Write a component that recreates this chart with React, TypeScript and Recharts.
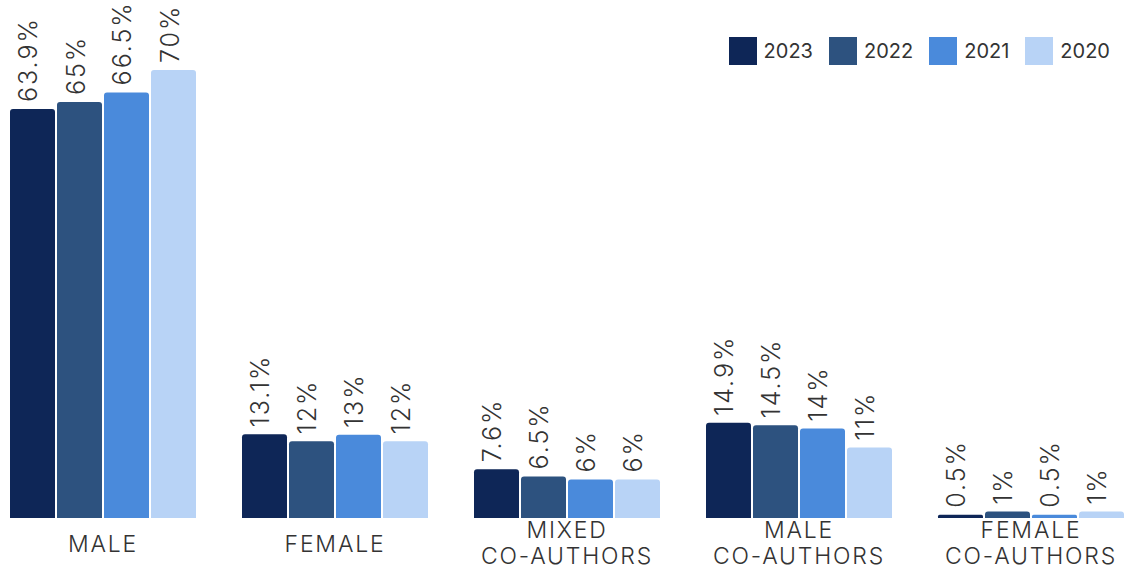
import React from 'react';
import { BarChart, Bar, XAxis, YAxis, LabelList, Legend } from 'recharts';

const categories = ['MALE', 'FEMALE', 'MIXED\nCO-AUTHORS', 'MALE\nCO-AUTHORS', 'FEMALE\nCO-AUTHORS'];
const v2023 = [63.9, 13.1, 7.6, 14.9, 0.5];
const v2022 = [65, 12, 6.5, 14.5, 1];
const v2021 = [66.5, 13, 6, 14, 0.5];
const v2020 = [70, 12, 6, 11, 1];
const seriesNames = ['2023', '2022', '2021', '2020'];
const seriesColors = ['#0e2657', '#2d527f', '#4a8adb', '#b8d3f6'];

const data = categories.map((c, i) => ({
  name: c,
  '2023': v2023[i],
  '2022': v2022[i],
  '2021': v2021[i],
  '2020': v2020[i],
}));

const FONT = 'Inter, "Open Sans", sans-serif';

const ValueLabel = (props: any) => {
  const { x, y, width, value } = props;
  const px = x + width / 2 + 5;
  const py = y - 7;
  return (
    <text
      x={px}
      y={py}
      transform={`rotate(-90, ${px}, ${py})`}
      textAnchor="start"
      fill="#333333"
      fontSize={25}
      fontWeight={300}
      letterSpacing={2}
      fontFamily={FONT}
    >
      {`${value}%`}
    </text>
  );
};

const CategoryTick = (props: any) => {
  const { x, y, payload } = props;
  const lines = String(payload.value).split('\n');
  const style = {
    fill: '#333333',
    fontSize: 23,
    fontWeight: 300,
    letterSpacing: 1.8,
    fontFamily: FONT,
  } as any;
  if (lines.length === 1) {
    return (
      <text x={x} y={y + 34} textAnchor="middle" style={style}>{lines[0]}</text>
    );
  }
  return (
    <g>
      {lines.map((l, i) => (
        <text key={i} x={x} y={y + 20 + i * 26} textAnchor="middle" style={style}>{l}</text>
      ))}
    </g>
  );
};

const LegendContent = () => (
  <div style={{ display: 'flex', alignItems: 'center', fontFamily: FONT }}>
    {seriesNames.map((n, i) => (
      <div key={n} style={{ display: 'flex', alignItems: 'center', marginLeft: i === 0 ? 0 : 16 }}>
        <div style={{ width: 28, height: 28, background: seriesColors[i] }} />
        <span style={{ marginLeft: 7, fontSize: 20, color: '#333333', fontWeight: 400 }}>{n}</span>
      </div>
    ))}
  </div>
);

export default function App() {
  return (
    <div style={{ position: 'absolute', left: 0, top: 0, width: 1126, height: 569, overflow: 'hidden', background: '#ffffff' }}>
      <div style={{ position: 'absolute', left: -13, top: 0 }}>
        <BarChart
          width={1160}
          height={569}
          data={data}
          margin={{ top: 6, right: 0, left: 0, bottom: 0 }}
          barSize={45}
          barGap={2}
        >
          <XAxis
            dataKey="name"
            axisLine={false}
            tickLine={false}
            tickSize={0}
            tickMargin={0}
            height={51}
            interval={0}
            tick={<CategoryTick />}
          />
          <YAxis hide domain={[0, 80]} />
          <Legend
            layout="horizontal"
            verticalAlign="middle"
            align="center"
            content={<LegendContent />}
            wrapperStyle={{ top: 37, right: 37, left: 'auto', width: 'auto', height: 28 }}
          />
          {seriesNames.map((n, i) => (
            <Bar key={n} dataKey={n} fill={seriesColors[i]} radius={[3, 3, 0, 0]} isAnimationActive={false}>
              <LabelList dataKey={n} content={<ValueLabel />} />
            </Bar>
          ))}
        </BarChart>
      </div>
    </div>
  );
}
